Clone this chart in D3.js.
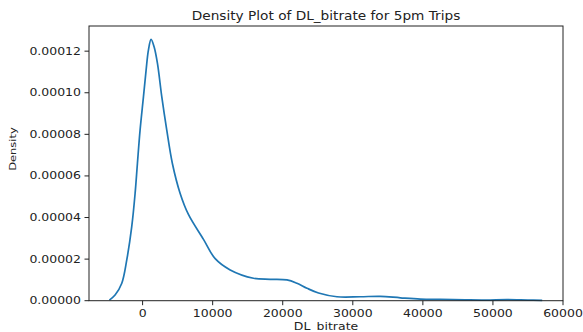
<!DOCTYPE html>
<html>
<head>
<meta charset="utf-8">
<script src="https://cdn.jsdelivr.net/npm/d3@7"></script>
<style>
  html, body { margin: 0; padding: 0; background: #fff; }
  svg { display: block; }
  text { font-family: "DejaVu Sans", sans-serif; fill: #222; }
</style>
</head>
<body>
<svg id="chart" width="583" height="332"></svg>
<script>
// KDE curve
const bitrate = [-4740, -3930, -2970, -2260, -1550, -1070, -740, -360, 120, 500, 830, 1210, 1640, 2120, 2740, 3450, 4250, 5360, 6540, 8690, 10360, 12500, 15830, 18210, 20600, 22030, 23460, 25110, 27740, 31070, 33930, 36790, 39640, 42500, 46000, 49000, 52000, 55000, 57030];
const density = [0.3, 2.7, 8.4, 19.6, 35.6, 51.6, 66, 82, 98, 110.9, 120.5, 125.7, 122.1, 114.1, 98, 82, 66, 51.6, 41.5, 29.5, 20.2, 14.8, 10.8, 10.3, 10.0, 8.4, 6.0, 3.7, 1.9, 1.9, 2.1, 1.4, 0.8, 0.6, 0.4, 0.3, 0.5, 0.3, 0.2].map(v => v * 1e-6);
const xTicks = [0, 10000, 20000, 30000, 40000, 50000, 60000];
const yTicks = [0, 0.00002, 0.00004, 0.00006, 0.00008, 0.00010, 0.00012];
const title = "Density Plot of DL_bitrate for 5pm Trips";
const xLabel = "DL_bitrate";
const yLabel = "Density";

const svg = d3.select("#chart");
const L = 89, R = 563, T = 26, B = 300.7;
const x = d3.scaleLinear().domain([-7650, 60000]).range([L, R]);
const y = d3.scaleLinear().domain([0, 0.0001321]).range([B, T]);

const SX = 1.3; // horizontal stretch of the reference image text

// curve
const pts = bitrate.map((b, i) => [b, density[i]]);
svg.append("path")
  .datum(pts)
  .attr("fill", "none")
  .attr("stroke", "#1f77b4")
  .attr("stroke-width", 1.7)
  .attr("d", d3.line().x(d => x(d[0])).y(d => y(d[1])).curve(d3.curveCatmullRom.alpha(0.5)));

// frame
svg.append("rect").attr("x", L).attr("y", T).attr("width", R - L).attr("height", B - T)
  .attr("fill", "none").attr("stroke", "#222").attr("stroke-width", 1);

// x ticks
xTicks.forEach(t => {
  const px = x(t);
  svg.append("line").attr("x1", px).attr("x2", px).attr("y1", B).attr("y2", B + 4.5)
    .attr("stroke", "#222").attr("stroke-width", 1);
  svg.append("text").attr("transform", `translate(${px},${B + 16}) scale(${SX},1)`)
    .attr("text-anchor", "middle").attr("font-size", 9.6).text(d3.format("d")(t));
});

// y ticks
yTicks.forEach(t => {
  const py = y(t);
  svg.append("line").attr("x1", L - 4.5).attr("x2", L).attr("y1", py).attr("y2", py)
    .attr("stroke", "#222").attr("stroke-width", 1);
  svg.append("text").attr("transform", `translate(${L - 8},${py + 3.5}) scale(${SX},1)`)
    .attr("text-anchor", "end").attr("font-size", 9.6).text(d3.format(".5f")(t));
});

// title
svg.append("text").attr("transform", `translate(${(L + R) / 2},${20}) scale(1.2,1)`)
  .attr("text-anchor", "middle").attr("font-size", 11.4).text(title);

// x label
svg.append("text").attr("transform", `translate(${(L + R) / 2},${330}) scale(${SX},1)`)
  .attr("text-anchor", "middle").attr("font-size", 9.6).text(xLabel);

// y label
svg.append("text").attr("transform", `translate(${16},${149}) rotate(-90) scale(1,0.8)`)
  .attr("text-anchor", "middle").attr("font-size", 11.5).text(yLabel);
</script>
</body>
</html>
